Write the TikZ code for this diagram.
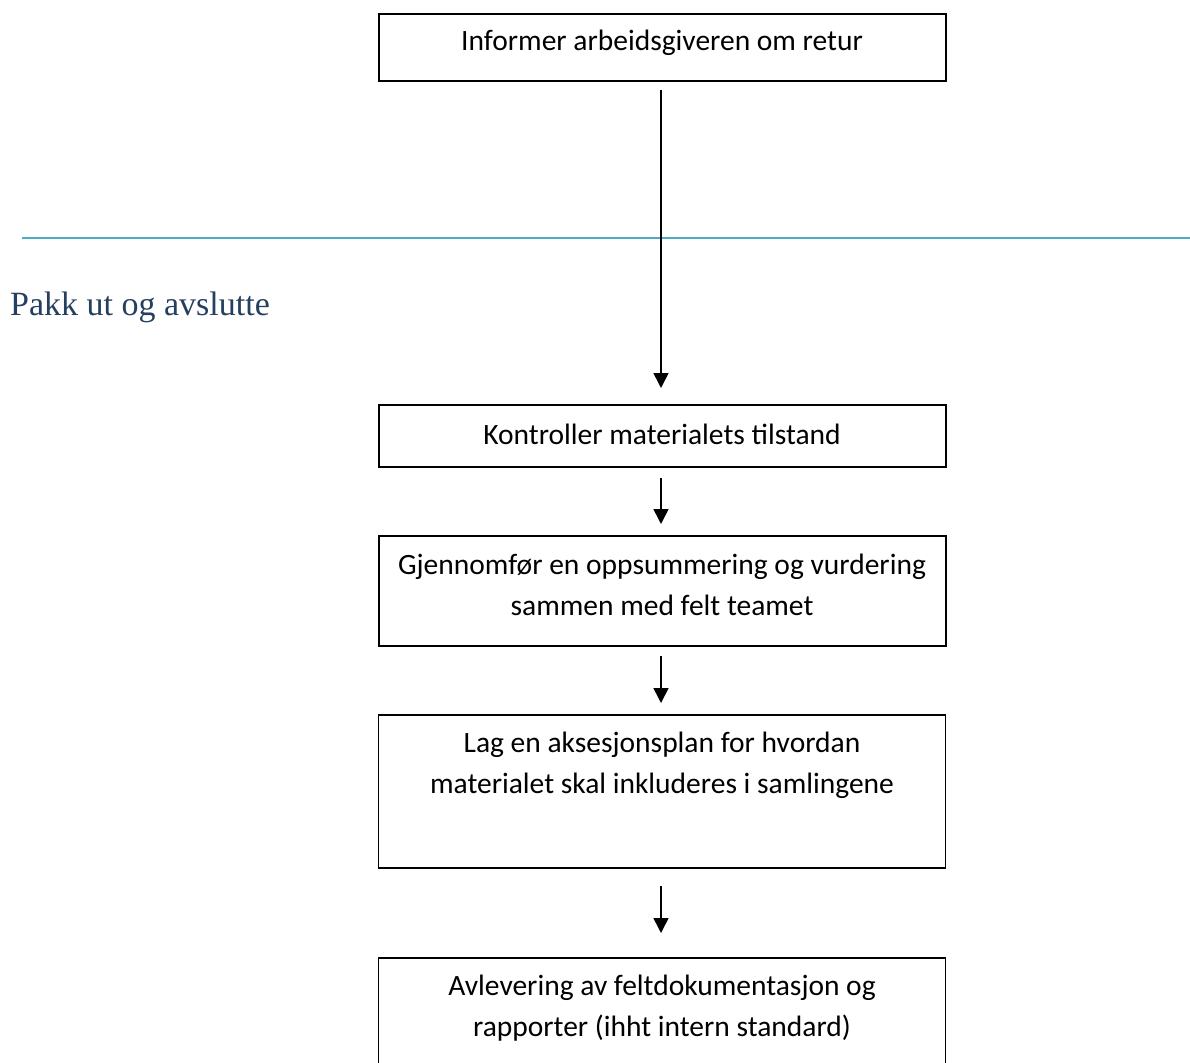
\documentclass[tikz,border=0pt]{standalone}
\usepackage{fontspec}
\setmainfont{Carlito}
\newfontfamily\headfont{Liberation Serif}
\usetikzlibrary{arrows.meta,positioning,calc}
\definecolor{headblue}{HTML}{243F60}
\definecolor{rulecyan}{HTML}{4BACC6}
\begin{document}
\begin{tikzpicture}[x=1pt,y=-1pt,
  box/.style={draw=black, line width=1.6pt, minimum width=567pt, inner sep=0pt, anchor=north},
  txt/.style={font=\fontsize{29.5}{41}\selectfont, align=center, anchor=center, inner sep=0pt},
  flow/.style={line width=1.6pt, -{Triangle[width=15pt,length=15pt]}}]
\useasboundingbox (0,0) rectangle (1190,1062);
% boxes
\node[box, minimum height=67pt] (b1) at (662.5,13) {};
\node[box, minimum height=62pt] (b2) at (662.5,404) {};
\node[box, minimum height=110pt] (b3) at (662.5,535) {};
\node[box, minimum height=153pt] (b4) at (662,714) {};
\node[box, minimum height=130pt] (b5) at (662,957) {};
% texts
\node[txt] (t1) at (662,43) {Informer arbeidsgiveren om retur};
\node[txt] (t2) at (662,434) {Kontroller materialets tilstand};
\node[txt] (t3) at (662,585) {Gjennomfør en oppsummering og vurdering\\sammen med felt teamet};
\node[txt] (t4) at (662,765) {Lag en aksesjonsplan for hvordan\\materialet skal inkluderes i samlingene};
\node[txt] (t5) at (662,1008) {Avlevering av feltdokumentasjon og\\rapporter (ihht intern standard)};
% rule and heading
\coordinate (rl) at (22,238);
\coordinate (rr) at (1190,238);
\draw[rulecyan, line width=1.3pt] (rl) -- (rr);
\node[anchor=base west, inner sep=0pt, text=headblue, font=\headfont\fontsize{34}{40}\selectfont] (head) at (10,315) {Pakk ut og avslutte};
% arrows
\coordinate (a1s) at (661,90);   \coordinate (a1e) at (661,388);
\coordinate (a2s) at (661,478);  \coordinate (a2e) at (661,524);
\coordinate (a3s) at (661,656);  \coordinate (a3e) at (661,703);
\coordinate (a4s) at (661,886);  \coordinate (a4e) at (661,933);
\draw[flow] (a1s) -- (a1e);
\draw[flow] (a2s) -- (a2e);
\draw[flow] (a3s) -- (a3e);
\draw[flow] (a4s) -- (a4e);
\end{tikzpicture}
\end{document}
